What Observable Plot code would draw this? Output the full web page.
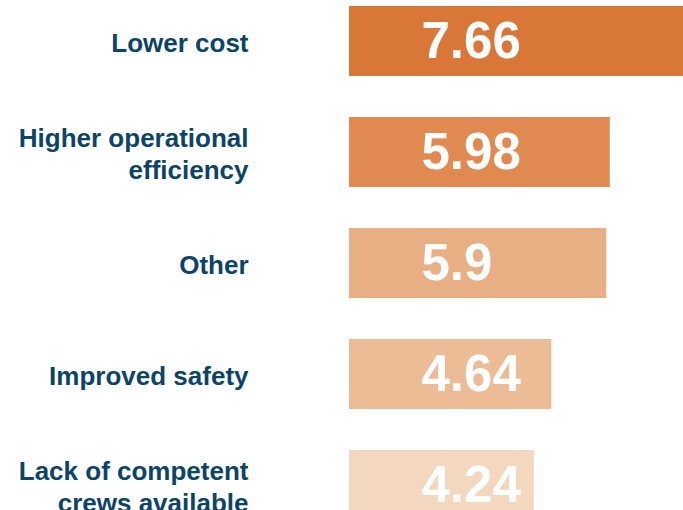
<!DOCTYPE html>
<html>
<head>
<meta charset="utf-8">
<script src="https://cdn.jsdelivr.net/npm/d3@7"></script>
<script src="https://cdn.jsdelivr.net/npm/@observablehq/plot@0.6"></script>
<style>
  html, body { margin: 0; padding: 0; background: #ffffff; overflow: hidden; }
  #chart svg { display: block; }
</style>
</head>
<body>
<div id="chart"></div>
<script>
const categories = [
  "Lower cost",
  "Higher operational\nefficiency",
  "Other",
  "Improved safety",
  "Lack of competent\ncrews available"
];
const values = [7.66, 5.98, 5.9, 4.64, 4.24];
const valueLabels = ["7.66", "5.98", "5.9", "4.64", "4.24"];
const barColors = ["#d97739", "#e08a51", "#e8af85", "#ecbc96", "#f3d7bf"];

const data = categories.map((c, i) => ({category: c, value: values[i], label: valueLabels[i]}));

const labelFont = "'Liberation Sans', Arial, sans-serif";
const valueFont = "'Liberation Sans', Arial, sans-serif";

const chart = Plot.plot({
  width: 683,
  height: 510,
  marginLeft: 349,
  marginRight: 0,
  marginTop: 0,
  marginBottom: 0,
  x: {domain: [0, 7.66], axis: null},
  y: {domain: categories, range: [-16.25, 541.25], paddingInner: 0.372, paddingOuter: 0.186, axis: null},
  color: {domain: categories, range: barColors},
  marks: [
    Plot.barX(data, {x: "value", y: "category", fill: "category"}),
    Plot.text(data, {
      x: 0, y: "category", text: "label", dx: 72, textAnchor: "start",
      fill: "white", fontSize: 51, fontWeight: "bold", fontFamily: valueFont
    }),
    Plot.text(data, {
      x: 0, y: "category", text: "category", dx: -101, textAnchor: "end",
      lineAnchor: "middle", lineHeight: 1.23,
      fill: "#0d4466", fontSize: 26, fontWeight: "bold", fontFamily: labelFont
    })
  ]
});
document.getElementById("chart").append(chart);
</script>
</body>
</html>
